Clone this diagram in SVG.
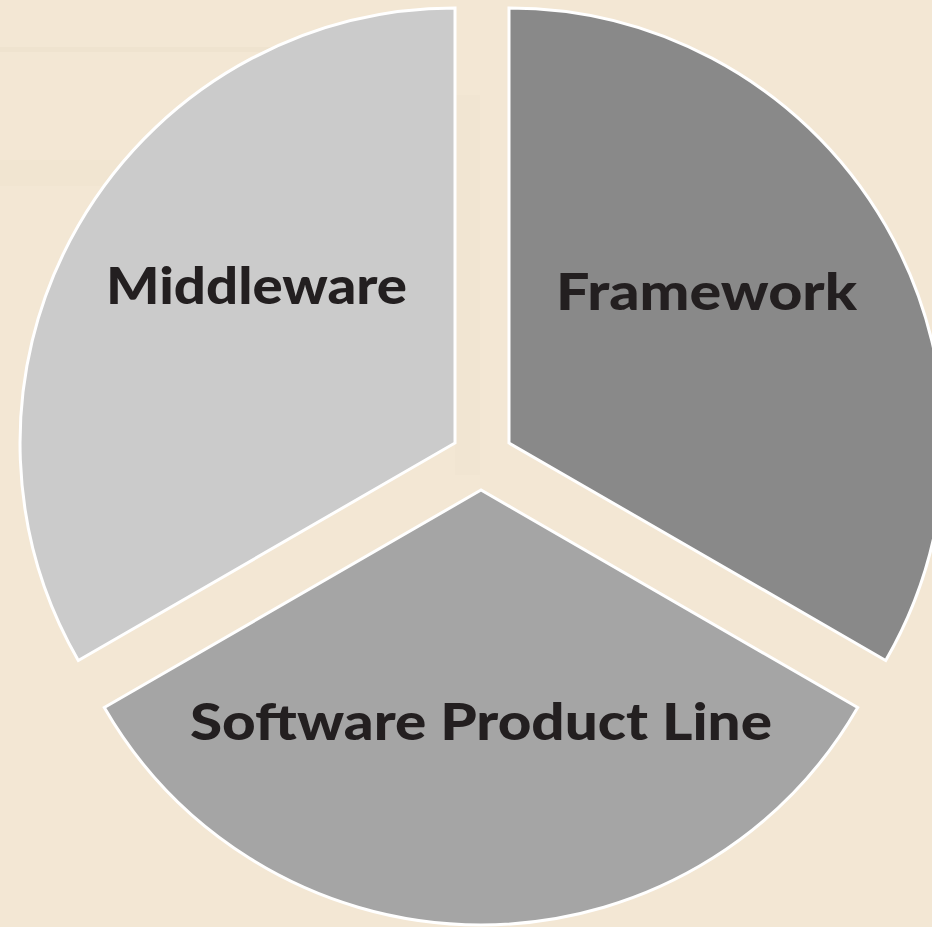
<svg xmlns="http://www.w3.org/2000/svg" width="932" height="927" viewBox="0 0 932 927">
  <style>
    .seg { stroke: #FFFFFF; stroke-width: 3; stroke-linejoin: miter; }
    .lbl { font-family: Lato, "Open Sans", "Liberation Sans", sans-serif; font-weight: 900; font-size: 51px; fill: #231F20; text-anchor: start; }
  </style>
  <rect x="0" y="0" width="932" height="927" fill="#F3E7D4"/>
  <g id="texture" opacity="0.35">
    <rect x="0" y="47" width="420" height="5" fill="#EADCC6"/>
    <rect x="0" y="160" width="420" height="26" fill="#EFE2CD"/>
    <rect x="455" y="95" width="25" height="380" fill="#EFE3CF"/>
  </g>
  <g id="middleware">
    <path class="seg" fill="#CBCBCB" d="M455,443 L455,8 A435,435 0 0 0 78.3,660.5 Z"/>
    <text class="lbl" x="106" y="304" textLength="301" lengthAdjust="spacingAndGlyphs">Middleware</text>
  </g>
  <g id="framework">
    <path class="seg" fill="#898989" d="M509,443 L509,8 A435,435 0 0 1 885.7,660.5 Z"/>
    <text class="lbl" x="556" y="310" textLength="301" lengthAdjust="spacingAndGlyphs">Framework</text>
  </g>
  <g id="software-product-line">
    <path class="seg" fill="#A5A5A5" d="M481,490 L104.3,707.5 A435,435 0 0 0 857.7,707.5 Z"/>
    <text class="lbl" x="190" y="740" textLength="582" lengthAdjust="spacingAndGlyphs">Software Product Line</text>
  </g>
  <g id="connectors"></g>
</svg>
